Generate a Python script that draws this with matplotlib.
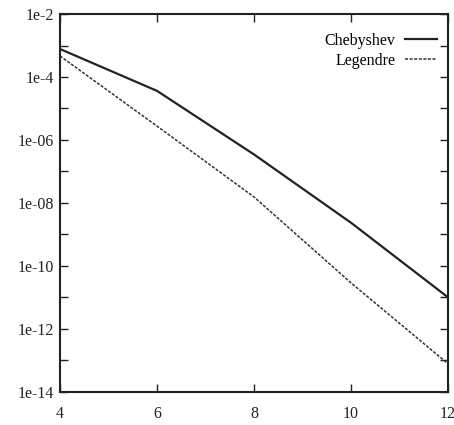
import matplotlib.pyplot as plt
from matplotlib.ticker import NullFormatter
import numpy as np

# (log10 of error)
n = [4, 6, 8, 10, 12]
cheb_log = [-3.11, -4.44, -6.46, -8.63, -11.0]
leg_log = [-3.33, -5.56, -7.81, -10.54, -13.11]
ytick_vals = [1e-2, 1e-4, 1e-6, 1e-8, 1e-10, 1e-12, 1e-14]
ytick_labels = ["1e-2", "1e-4", "1e-06", "1e-08", "1e-10", "1e-12", "1e-14"]
xtick_vals = [4, 6, 8, 10, 12]

cheb = 10.0 ** np.array(cheb_log)
leg = 10.0 ** np.array(leg_log)

plt.rcParams['font.family'] = ['Liberation Serif', 'DejaVu Serif']

fig = plt.figure(figsize=(4.54, 4.25), dpi=100)
ax = fig.add_axes([0.132, 0.078, 0.855, 0.889])

ax.plot(n, cheb, color="#222222", lw=1.6, label="Chebyshev")
ax.plot(n, leg, color="#333333", lw=1.1, ls=(0, (2, 1)), label="Legendre")

ax.set_yscale("log")
ax.set_xlim(4, 12)
ax.set_ylim(1e-14, 1e-2)
ax.set_yticks(ytick_vals)
ax.set_yticklabels(ytick_labels)
ax.set_yticks([10.0 ** k for k in range(-13, -2, 2)], minor=True)
ax.yaxis.set_minor_formatter(NullFormatter())
ax.set_xticks(xtick_vals)
ax.tick_params(axis="both", which="both", direction="in", top=True, right=True,
               labelsize=11.5, width=1.0, colors="#222222")
ax.tick_params(axis="both", which="major", length=6)
ax.tick_params(axis="both", which="minor", length=6)
ax.tick_params(axis="x", pad=10)
ax.tick_params(axis="y", pad=4)
for s in ax.spines.values():
    s.set_linewidth(1.5)
    s.set_color("#222222")

ax.legend(loc="upper right", bbox_to_anchor=(1.0, 0.98), frameon=False,
          markerfirst=False, fontsize=11.5, handlelength=2.0,
          handletextpad=0.6, labelspacing=0.25, borderaxespad=0.3)

fig.savefig("out.png", dpi=100)
